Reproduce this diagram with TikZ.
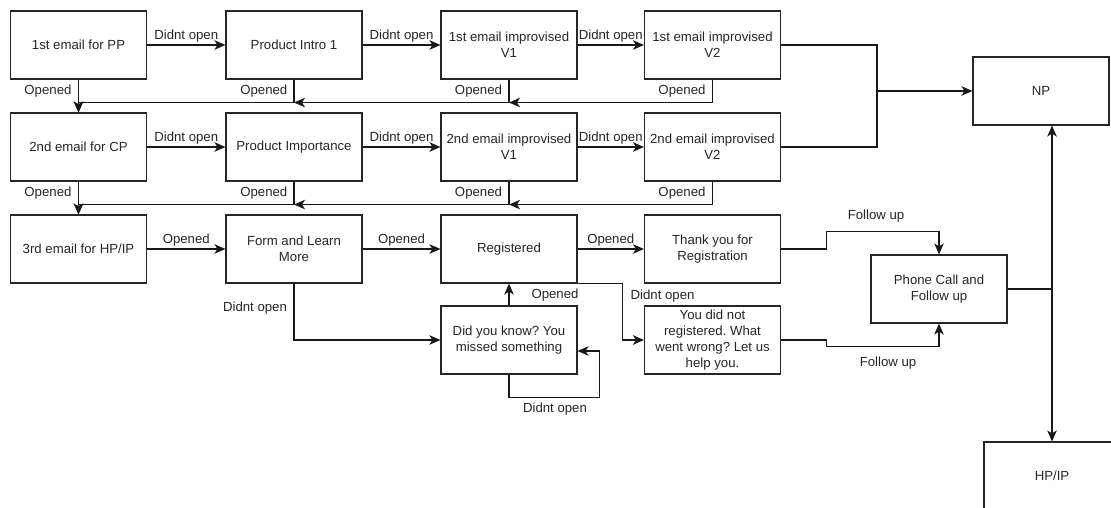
\documentclass[tikz,border=0pt]{standalone}
\usepackage{fontspec}
\setmainfont{Liberation Sans}
\usetikzlibrary{arrows.meta,calc}
\frenchspacing
\begin{document}
\begin{tikzpicture}[x=1pt,y=-1pt,
  box/.style={draw=black!85,line width=1.1pt,minimum width=136pt,minimum height=68pt,inner sep=1pt,align=center,text=black!85,font=\fontsize{13.2}{15.8}\selectfont},
  lbl/.style={text=black!85,font=\fontsize{13.2}{15.8}\selectfont,inner sep=1.5pt},
  line/.style={draw=black!90,line width=1.1pt},
  tip/.tip={Stealth[length=11pt,width=9.5pt,inset=3pt]},
  arr/.style={line,-tip},
  arrs/.style={line,tip-tip}]
\clip (0,0) rectangle (1111,508);
\useasboundingbox (0,0) rectangle (1111,508);
% row 1
\node[box] (e1) at (78.5,45) {1st email for PP};
\node[box] (p1) at (294,45) {Product Intro 1};
\node[box] (a1) at (509,45) {1st email improvised\\V1};
\node[box] (b1) at (712.5,45) {1st email improvised\\V2};
% row 2
\node[box] (e2) at (78.5,147) {2nd email for CP};
\node[box] (p2) at (294,147) {Product Importance};
\node[box] (a2) at (509,147) {2nd email improvised\\V1};
\node[box] (b2) at (712.5,147) {2nd email improvised\\V2};
% row 3
\node[box] (e3) at (78.5,249) {3rd email for HP/IP};
\node[box] (f3) at (294,249) {Form and Learn\\More};
\node[box] (r3) at (509,249) {Registered};
\node[box] (t3) at (712.5,249) {Thank you for\\Registration};
% row 4
\node[box] (dk) at (509,340) {Did you know? You\\missed something};
\node[box] (yd) at (712.5,340) {You did not\\registered. What\\went wrong? Let us\\help you.};
% right
\node[box] (np) at (1041,91) {NP};
\node[box] (ph) at (939,289) {Phone Call and\\Follow up};
\node[box] (hp) at (1052,476) {HP/IP};

% row 1 horizontal
\draw[arr] (e1) -- (p1) node[lbl,midway,above=1pt] {Didnt open};
\draw[arr] (p1) -- (a1) node[lbl,midway,above=1pt] {Didnt open};
\draw[arr] (a1) -- (b1) node[lbl,midway,above=1pt] {Didnt open};
% row 1 opened
\coordinate (j1p) at ($(p1.south)+(0,23)$);
\coordinate (j1a) at ($(a1.south)+(0,23)$);
\draw[arr] (e1.south) -- (e2.north) node[lbl,pos=0.35,left=5pt] {Opened};
\draw[arr] (p1.south) |- ($(e1.south)+(0,23)$) -- (e2.north);
\draw[arr] (a1.south) |- (j1p) node[lbl,pos=0.25,left=5pt] {Opened};
\draw[arr] (b1.south) |- (j1a) node[lbl,pos=0.25,left=5pt] {Opened};
\node[lbl,left=5pt] at ($(p1.south)+(0,12)$) {Opened};
% row 2 horizontal
\draw[arr] (e2) -- (p2) node[lbl,midway,above=1pt] {Didnt open};
\draw[arr] (p2) -- (a2) node[lbl,midway,above=1pt] {Didnt open};
\draw[arr] (a2) -- (b2) node[lbl,midway,above=1pt] {Didnt open};
% row 2 opened
\coordinate (j2p) at ($(p2.south)+(0,23)$);
\coordinate (j2a) at ($(a2.south)+(0,23)$);
\draw[arr] (e2.south) -- (e3.north) node[lbl,pos=0.35,left=5pt] {Opened};
\draw[arr] (p2.south) |- ($(e2.south)+(0,23)$) -- (e3.north);
\draw[arr] (a2.south) |- (j2p) node[lbl,pos=0.25,left=5pt] {Opened};
\draw[arr] (b2.south) |- (j2a) node[lbl,pos=0.25,left=5pt] {Opened};
\node[lbl,left=5pt] at ($(p2.south)+(0,12)$) {Opened};
% to NP
\coordinate (m) at (877,91);
\draw[line] (b1.east) -| (m);
\draw[line] (b2.east) -| (m);
\draw[arr] (m) -- (np.west);
% row 3
\draw[arr] (e3) -- (f3) node[lbl,midway,above=1pt] {Opened};
\draw[arr] (f3) -- (r3) node[lbl,midway,above=1pt] {Opened};
\draw[arr] (r3) -- (t3) node[lbl,midway,above=1pt] {Opened};
\draw[arr] (f3.south) |- (dk.west) node[lbl,pos=0.22,left=5pt] {Didnt open};
\draw[arr] (dk.north) -- (r3.south);
\node[lbl] at ($(dk.north)+(46,-10)$) {Opened};
\draw[arr] (r3.south east) -- ++(45,0) |- (yd.west);
\node[lbl] at ($(r3.south east)+(85,13)$) {Didnt open};
\draw[arr] (dk.south) -- ++(0,23) -| ($(dk.east)+(22,11)$) -- ($(dk.east)+(0,11)$);
\node[lbl] at ($(dk.south)+(46,35)$) {Didnt open};
% follow up
\draw[arr] (t3.east) -- ++(45,0) |- ($(ph.north)+(0,-23)$) -- (ph.north);
\node[lbl] at (876,216) {Follow up};
\draw[arr] (yd.east) -- ++(45,0) |- ($(ph.south)+(0,23)$) -- (ph.south);
\node[lbl] at (888,363) {Follow up};
% phone to NP / HP
\coordinate (k) at (1052,289);
\draw[line] (ph.east) -- (k);
\draw[arrs] (k |- np.south) -- (k |- hp.north);
\end{tikzpicture}
\end{document}
